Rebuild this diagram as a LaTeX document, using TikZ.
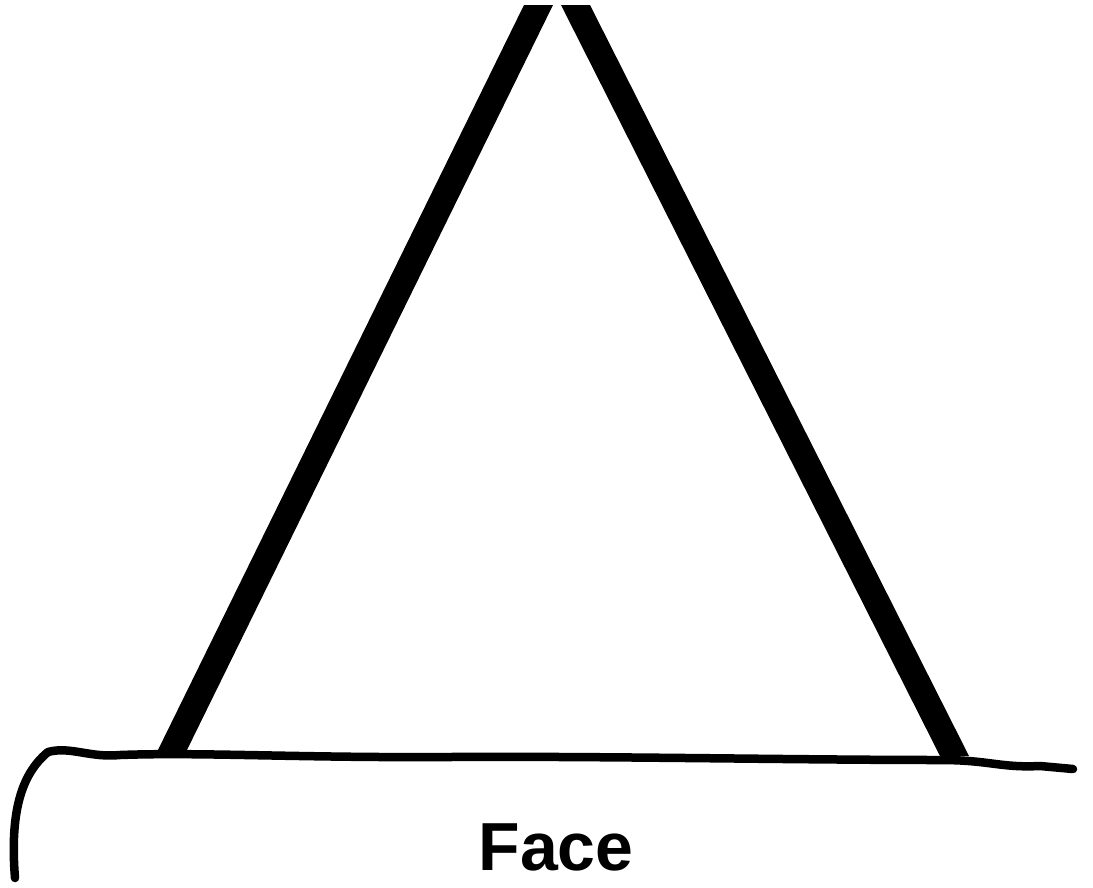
\documentclass[tikz,border=0pt]{standalone}
\usepackage{fontspec}
\setmainfont{Liberation Sans}
\begin{document}
\begin{tikzpicture}[x=1pt,y=-1pt,
  leg/.style={fill=black,draw=none},
  ground/.style={line width=8.5pt,line cap=round,line join=round},
  label/.style={font=\bfseries\fontsize{68}{70}\selectfont,inner sep=0pt}]
\useasboundingbox (0,0) rectangle (1093,887);
% legs
\fill[leg] (524,5) -- (553,5) -- (185,754) -- (156,754) -- cycle;
\fill[leg] (561,5) -- (590,5) -- (969,756) -- (940,756) -- cycle;
% ground line
\draw[ground] (15,878) .. controls (10,815) and (20,775) .. (48,752)
  .. controls (70,746) and (90,758) .. (120,755)
  .. controls (200,752) and (300,758) .. (450,757)
  .. controls (600,756) and (800,760) .. (940,760)
  .. controls (990,760) and (1000,768) .. (1040,766)
  -- (1073,769);
% label
\node[label] (face) at (556,847) {Face};
\end{tikzpicture}
\end{document}
